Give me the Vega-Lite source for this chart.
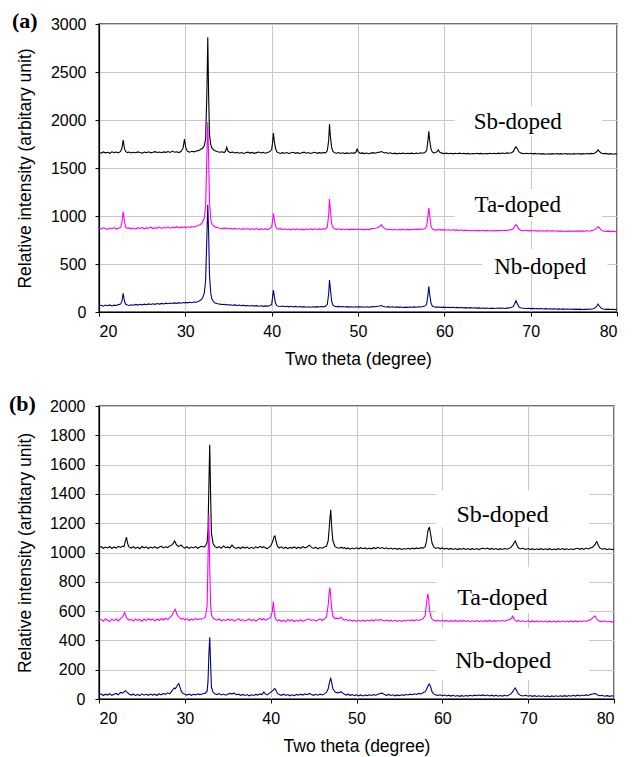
{
"$schema":"https://vega.github.io/schema/vega-lite/v6.json",
"background":"white",
"padding":{"left":8,"top":9,"right":5,"bottom":0},
"spacing":22,
"config":{
 "view":{"stroke":"#404040","strokeWidth":1.5},
 "axis":{"labelFont":"Liberation Sans","titleFont":"Liberation Sans","labelFontSize":16,"titleFontSize":17.5,"titleFontWeight":"normal","labelColor":"#000","titleColor":"#000","domainColor":"#000","tickColor":"#000","gridColor":"#c8c8c8","gridWidth":1,"tickSize":4,"domainWidth":1.2}
},
"datasets":{
"a":[
{"x":20,"Sb":1662,"Ta":872,"Nb":64},{"x":20.25,"Sb":1655,"Ta":866,"Nb":70},{"x":20.5,"Sb":1667,"Ta":877,"Nb":61},{"x":20.75,"Sb":1658,"Ta":869,"Nb":72},{"x":21,"Sb":1664,"Ta":861,"Nb":66},{"x":21.25,"Sb":1653,"Ta":875,"Nb":74},{"x":21.5,"Sb":1669,"Ta":868,"Nb":63},{"x":21.75,"Sb":1660,"Ta":879,"Nb":71},{"x":22,"Sb":1666,"Ta":864,"Nb":68},{"x":22.25,"Sb":1657,"Ta":873,"Nb":77},{"x":22.5,"Sb":1672,"Ta":880,"Nb":82},{"x":22.65,"Sb":1705,"Ta":930,"Nb":110},{"x":22.8,"Sb":1790,"Ta":1045,"Nb":195},{"x":22.95,"Sb":1702,"Ta":935,"Nb":112},{"x":23.1,"Sb":1670,"Ta":884,"Nb":80},{"x":23.3,"Sb":1661,"Ta":870,"Nb":72},{"x":23.5,"Sb":1667,"Ta":876,"Nb":68},{"x":23.75,"Sb":1656,"Ta":866,"Nb":76},{"x":24,"Sb":1664,"Ta":874,"Nb":70},{"x":24.25,"Sb":1659,"Ta":863,"Nb":79},{"x":24.5,"Sb":1668,"Ta":878,"Nb":72},{"x":24.75,"Sb":1661,"Ta":870,"Nb":80},{"x":25,"Sb":1655,"Ta":881,"Nb":74},{"x":25.25,"Sb":1666,"Ta":867,"Nb":82},{"x":25.5,"Sb":1660,"Ta":876,"Nb":76},{"x":25.75,"Sb":1669,"Ta":872,"Nb":84},{"x":26,"Sb":1658,"Ta":883,"Nb":78},{"x":26.25,"Sb":1664,"Ta":869,"Nb":86},{"x":26.5,"Sb":1670,"Ta":878,"Nb":80},{"x":26.75,"Sb":1661,"Ta":874,"Nb":88},{"x":27,"Sb":1667,"Ta":885,"Nb":82},{"x":27.25,"Sb":1659,"Ta":871,"Nb":90},{"x":27.5,"Sb":1668,"Ta":880,"Nb":84},{"x":27.75,"Sb":1663,"Ta":875,"Nb":92},{"x":28,"Sb":1671,"Ta":887,"Nb":86},{"x":28.25,"Sb":1662,"Ta":873,"Nb":93},{"x":28.5,"Sb":1676,"Ta":882,"Nb":88},{"x":28.75,"Sb":1664,"Ta":877,"Nb":95},{"x":29,"Sb":1669,"Ta":889,"Nb":90},{"x":29.25,"Sb":1661,"Ta":876,"Nb":97},{"x":29.5,"Sb":1672,"Ta":884,"Nb":92},{"x":29.75,"Sb":1712,"Ta":880,"Nb":99},{"x":29.9,"Sb":1802,"Ta":886,"Nb":94},{"x":30.05,"Sb":1712,"Ta":879,"Nb":100},{"x":30.25,"Sb":1673,"Ta":888,"Nb":95},{"x":30.5,"Sb":1665,"Ta":881,"Nb":101},{"x":30.75,"Sb":1674,"Ta":890,"Nb":97},{"x":31,"Sb":1668,"Ta":886,"Nb":104},{"x":31.25,"Sb":1677,"Ta":894,"Nb":101},{"x":31.5,"Sb":1681,"Ta":900,"Nb":110},{"x":31.75,"Sb":1692,"Ta":912,"Nb":122},{"x":32,"Sb":1705,"Ta":935,"Nb":145},{"x":32.2,"Sb":1735,"Ta":980,"Nb":200},{"x":32.35,"Sb":1800,"Ta":1100,"Nb":330},{"x":32.5,"Sb":2300,"Ta":1650,"Nb":800},{"x":32.6,"Sb":2862,"Ta":1978,"Nb":1118},{"x":32.7,"Sb":2250,"Ta":1600,"Nb":820},{"x":32.8,"Sb":1850,"Ta":1150,"Nb":380},{"x":32.95,"Sb":1740,"Ta":960,"Nb":190},{"x":33.1,"Sb":1705,"Ta":915,"Nb":130},{"x":33.3,"Sb":1688,"Ta":895,"Nb":105},{"x":33.5,"Sb":1678,"Ta":884,"Nb":92},{"x":33.75,"Sb":1670,"Ta":878,"Nb":86},{"x":34,"Sb":1664,"Ta":873,"Nb":82},{"x":34.25,"Sb":1669,"Ta":867,"Nb":78},{"x":34.5,"Sb":1661,"Ta":876,"Nb":80},{"x":34.65,"Sb":1676,"Ta":869,"Nb":75},{"x":34.8,"Sb":1716,"Ta":874,"Nb":78},{"x":34.95,"Sb":1674,"Ta":866,"Nb":73},{"x":35.2,"Sb":1660,"Ta":872,"Nb":76},{"x":35.5,"Sb":1666,"Ta":864,"Nb":71},{"x":35.75,"Sb":1657,"Ta":871,"Nb":74},{"x":36,"Sb":1663,"Ta":862,"Nb":68},{"x":36.25,"Sb":1654,"Ta":869,"Nb":72},{"x":36.5,"Sb":1661,"Ta":860,"Nb":66},{"x":36.75,"Sb":1652,"Ta":868,"Nb":70},{"x":37,"Sb":1659,"Ta":862,"Nb":64},{"x":37.25,"Sb":1665,"Ta":870,"Nb":68},{"x":37.5,"Sb":1655,"Ta":859,"Nb":62},{"x":37.75,"Sb":1662,"Ta":867,"Nb":67},{"x":38,"Sb":1653,"Ta":861,"Nb":61},{"x":38.25,"Sb":1660,"Ta":869,"Nb":66},{"x":38.5,"Sb":1666,"Ta":858,"Nb":60},{"x":38.75,"Sb":1656,"Ta":866,"Nb":65},{"x":39,"Sb":1663,"Ta":860,"Nb":59},{"x":39.25,"Sb":1654,"Ta":868,"Nb":64},{"x":39.5,"Sb":1661,"Ta":857,"Nb":61},{"x":39.75,"Sb":1668,"Ta":866,"Nb":66},{"x":40,"Sb":1692,"Ta":885,"Nb":78},{"x":40.1,"Sb":1762,"Ta":950,"Nb":150},{"x":40.2,"Sb":1865,"Ta":1028,"Nb":229},{"x":40.3,"Sb":1782,"Ta":962,"Nb":165},{"x":40.45,"Sb":1702,"Ta":895,"Nb":90},{"x":40.6,"Sb":1668,"Ta":870,"Nb":66},{"x":40.8,"Sb":1659,"Ta":862,"Nb":60},{"x":41,"Sb":1652,"Ta":868,"Nb":57},{"x":41.25,"Sb":1660,"Ta":859,"Nb":62},{"x":41.5,"Sb":1654,"Ta":866,"Nb":55},{"x":41.75,"Sb":1661,"Ta":857,"Nb":60},{"x":42,"Sb":1651,"Ta":864,"Nb":54},{"x":42.25,"Sb":1658,"Ta":856,"Nb":59},{"x":42.5,"Sb":1664,"Ta":865,"Nb":53},{"x":42.75,"Sb":1653,"Ta":858,"Nb":58},{"x":43,"Sb":1660,"Ta":866,"Nb":52},{"x":43.25,"Sb":1651,"Ta":855,"Nb":57},{"x":43.5,"Sb":1659,"Ta":863,"Nb":51},{"x":43.75,"Sb":1665,"Ta":856,"Nb":56},{"x":44,"Sb":1654,"Ta":864,"Nb":50},{"x":44.25,"Sb":1661,"Ta":857,"Nb":55},{"x":44.5,"Sb":1652,"Ta":866,"Nb":49},{"x":44.75,"Sb":1658,"Ta":858,"Nb":54},{"x":45,"Sb":1663,"Ta":867,"Nb":51},{"x":45.25,"Sb":1653,"Ta":859,"Nb":56},{"x":45.5,"Sb":1660,"Ta":866,"Nb":52},{"x":45.75,"Sb":1655,"Ta":860,"Nb":57},{"x":46,"Sb":1662,"Ta":868,"Nb":54},{"x":46.25,"Sb":1658,"Ta":862,"Nb":60},{"x":46.45,"Sb":1682,"Ta":885,"Nb":80},{"x":46.6,"Sb":1785,"Ta":1010,"Nb":190},{"x":46.7,"Sb":1957,"Ta":1177,"Nb":333},{"x":46.8,"Sb":1830,"Ta":1060,"Nb":240},{"x":46.95,"Sb":1712,"Ta":920,"Nb":110},{"x":47.1,"Sb":1672,"Ta":880,"Nb":72},{"x":47.3,"Sb":1659,"Ta":866,"Nb":60},{"x":47.5,"Sb":1654,"Ta":861,"Nb":55},{"x":47.75,"Sb":1661,"Ta":867,"Nb":58},{"x":48,"Sb":1652,"Ta":858,"Nb":53},{"x":48.25,"Sb":1658,"Ta":865,"Nb":57},{"x":48.5,"Sb":1650,"Ta":857,"Nb":52},{"x":48.75,"Sb":1657,"Ta":864,"Nb":56},{"x":49,"Sb":1651,"Ta":856,"Nb":51},{"x":49.25,"Sb":1659,"Ta":863,"Nb":55},{"x":49.5,"Sb":1653,"Ta":858,"Nb":50},{"x":49.75,"Sb":1664,"Ta":864,"Nb":54},{"x":49.9,"Sb":1696,"Ta":859,"Nb":52},{"x":50.05,"Sb":1668,"Ta":866,"Nb":56},{"x":50.25,"Sb":1652,"Ta":857,"Nb":51},{"x":50.5,"Sb":1657,"Ta":863,"Nb":55},{"x":50.75,"Sb":1650,"Ta":856,"Nb":50},{"x":51,"Sb":1656,"Ta":862,"Nb":54},{"x":51.25,"Sb":1649,"Ta":858,"Nb":49},{"x":51.5,"Sb":1655,"Ta":866,"Nb":53},{"x":51.75,"Sb":1660,"Ta":870,"Nb":57},{"x":52,"Sb":1654,"Ta":873,"Nb":55},{"x":52.25,"Sb":1662,"Ta":878,"Nb":60},{"x":52.5,"Sb":1665,"Ta":890,"Nb":62},{"x":52.7,"Sb":1672,"Ta":910,"Nb":68},{"x":52.9,"Sb":1664,"Ta":884,"Nb":60},{"x":53.1,"Sb":1657,"Ta":868,"Nb":55},{"x":53.3,"Sb":1661,"Ta":863,"Nb":52},{"x":53.5,"Sb":1652,"Ta":857,"Nb":56},{"x":53.75,"Sb":1658,"Ta":862,"Nb":50},{"x":54,"Sb":1649,"Ta":855,"Nb":54},{"x":54.25,"Sb":1655,"Ta":861,"Nb":49},{"x":54.5,"Sb":1647,"Ta":854,"Nb":53},{"x":54.75,"Sb":1654,"Ta":860,"Nb":48},{"x":55,"Sb":1650,"Ta":856,"Nb":52},{"x":55.25,"Sb":1656,"Ta":862,"Nb":47},{"x":55.5,"Sb":1648,"Ta":855,"Nb":51},{"x":55.75,"Sb":1654,"Ta":861,"Nb":48},{"x":56,"Sb":1650,"Ta":856,"Nb":52},{"x":56.25,"Sb":1655,"Ta":862,"Nb":49},{"x":56.5,"Sb":1649,"Ta":857,"Nb":53},{"x":56.75,"Sb":1656,"Ta":863,"Nb":50},{"x":57,"Sb":1651,"Ta":858,"Nb":55},{"x":57.25,"Sb":1658,"Ta":865,"Nb":52},{"x":57.5,"Sb":1654,"Ta":862,"Nb":58},{"x":57.75,"Sb":1662,"Ta":870,"Nb":62},{"x":57.95,"Sb":1682,"Ta":892,"Nb":80},{"x":58.1,"Sb":1782,"Ta":1000,"Nb":175},{"x":58.2,"Sb":1882,"Ta":1084,"Nb":268},{"x":58.3,"Sb":1792,"Ta":1010,"Nb":190},{"x":58.45,"Sb":1702,"Ta":900,"Nb":95},{"x":58.6,"Sb":1668,"Ta":866,"Nb":62},{"x":58.8,"Sb":1658,"Ta":858,"Nb":55},{"x":59,"Sb":1662,"Ta":852,"Nb":50},{"x":59.15,"Sb":1670,"Ta":858,"Nb":53},{"x":59.3,"Sb":1688,"Ta":854,"Nb":49},{"x":59.45,"Sb":1667,"Ta":860,"Nb":52},{"x":59.7,"Sb":1655,"Ta":853,"Nb":48},{"x":60,"Sb":1650,"Ta":858,"Nb":51},{"x":60.25,"Sb":1655,"Ta":852,"Nb":47},{"x":60.5,"Sb":1648,"Ta":857,"Nb":50},{"x":60.75,"Sb":1654,"Ta":851,"Nb":46},{"x":61,"Sb":1647,"Ta":856,"Nb":49},{"x":61.25,"Sb":1653,"Ta":850,"Nb":45},{"x":61.5,"Sb":1649,"Ta":855,"Nb":48},{"x":61.75,"Sb":1655,"Ta":849,"Nb":44},{"x":62,"Sb":1648,"Ta":854,"Nb":47},{"x":62.25,"Sb":1653,"Ta":848,"Nb":43},{"x":62.5,"Sb":1647,"Ta":853,"Nb":46},{"x":62.75,"Sb":1652,"Ta":847,"Nb":42},{"x":63,"Sb":1646,"Ta":852,"Nb":45},{"x":63.25,"Sb":1651,"Ta":846,"Nb":41},{"x":63.5,"Sb":1648,"Ta":851,"Nb":44},{"x":63.75,"Sb":1654,"Ta":845,"Nb":40},{"x":64,"Sb":1647,"Ta":850,"Nb":43},{"x":64.25,"Sb":1652,"Ta":846,"Nb":39},{"x":64.5,"Sb":1646,"Ta":851,"Nb":42},{"x":64.75,"Sb":1651,"Ta":845,"Nb":38},{"x":65,"Sb":1647,"Ta":850,"Nb":41},{"x":65.25,"Sb":1653,"Ta":844,"Nb":37},{"x":65.5,"Sb":1648,"Ta":849,"Nb":40},{"x":65.75,"Sb":1654,"Ta":845,"Nb":36},{"x":66,"Sb":1649,"Ta":850,"Nb":39},{"x":66.25,"Sb":1655,"Ta":846,"Nb":42},{"x":66.5,"Sb":1650,"Ta":851,"Nb":38},{"x":66.75,"Sb":1656,"Ta":847,"Nb":41},{"x":67,"Sb":1651,"Ta":852,"Nb":37},{"x":67.25,"Sb":1657,"Ta":848,"Nb":40},{"x":67.5,"Sb":1653,"Ta":854,"Nb":43},{"x":67.75,"Sb":1659,"Ta":858,"Nb":46},{"x":68,"Sb":1672,"Ta":870,"Nb":58},{"x":68.15,"Sb":1702,"Ta":895,"Nb":90},{"x":68.3,"Sb":1722,"Ta":910,"Nb":118},{"x":68.45,"Sb":1701,"Ta":892,"Nb":85},{"x":68.65,"Sb":1667,"Ta":862,"Nb":52},{"x":68.9,"Sb":1655,"Ta":850,"Nb":42},{"x":69.2,"Sb":1649,"Ta":846,"Nb":39},{"x":69.5,"Sb":1654,"Ta":851,"Nb":36},{"x":69.75,"Sb":1648,"Ta":845,"Nb":39},{"x":70,"Sb":1653,"Ta":850,"Nb":35},{"x":70.25,"Sb":1647,"Ta":844,"Nb":38},{"x":70.5,"Sb":1652,"Ta":849,"Nb":34},{"x":70.75,"Sb":1646,"Ta":843,"Nb":37},{"x":71,"Sb":1651,"Ta":848,"Nb":33},{"x":71.25,"Sb":1645,"Ta":842,"Nb":36},{"x":71.5,"Sb":1650,"Ta":847,"Nb":32},{"x":71.75,"Sb":1644,"Ta":843,"Nb":35},{"x":72,"Sb":1649,"Ta":848,"Nb":31},{"x":72.25,"Sb":1645,"Ta":842,"Nb":34},{"x":72.5,"Sb":1650,"Ta":847,"Nb":30},{"x":72.75,"Sb":1646,"Ta":841,"Nb":33},{"x":73,"Sb":1651,"Ta":846,"Nb":29},{"x":73.25,"Sb":1645,"Ta":840,"Nb":32},{"x":73.5,"Sb":1650,"Ta":845,"Nb":29},{"x":73.75,"Sb":1646,"Ta":839,"Nb":32},{"x":74,"Sb":1651,"Ta":844,"Nb":28},{"x":74.25,"Sb":1645,"Ta":840,"Nb":31},{"x":74.5,"Sb":1649,"Ta":845,"Nb":28},{"x":74.75,"Sb":1644,"Ta":839,"Nb":31},{"x":75,"Sb":1650,"Ta":844,"Nb":27},{"x":75.25,"Sb":1646,"Ta":840,"Nb":30},{"x":75.5,"Sb":1651,"Ta":845,"Nb":27},{"x":75.75,"Sb":1645,"Ta":840,"Nb":30},{"x":76,"Sb":1650,"Ta":845,"Nb":26},{"x":76.25,"Sb":1646,"Ta":841,"Nb":29},{"x":76.5,"Sb":1651,"Ta":846,"Nb":27},{"x":76.75,"Sb":1647,"Ta":842,"Nb":31},{"x":77,"Sb":1652,"Ta":848,"Nb":29},{"x":77.25,"Sb":1649,"Ta":852,"Nb":34},{"x":77.55,"Sb":1662,"Ta":866,"Nb":48},{"x":77.7,"Sb":1676,"Ta":880,"Nb":68},{"x":77.8,"Sb":1688,"Ta":889,"Nb":83},{"x":77.95,"Sb":1673,"Ta":878,"Nb":62},{"x":78.15,"Sb":1656,"Ta":855,"Nb":40},{"x":78.4,"Sb":1648,"Ta":843,"Nb":31},{"x":78.7,"Sb":1652,"Ta":838,"Nb":27},{"x":79,"Sb":1645,"Ta":842,"Nb":30},{"x":79.25,"Sb":1650,"Ta":837,"Nb":26},{"x":79.5,"Sb":1644,"Ta":841,"Nb":29},{"x":79.75,"Sb":1649,"Ta":836,"Nb":25},{"x":80,"Sb":1645,"Ta":840,"Nb":28}
],
"b":[
{"x":20,"Sb":1034,"Ta":536,"Nb":28},{"x":20.25,"Sb":1040,"Ta":544,"Nb":35},{"x":20.5,"Sb":1029,"Ta":531,"Nb":24},{"x":20.75,"Sb":1037,"Ta":548,"Nb":33},{"x":21,"Sb":1031,"Ta":538,"Nb":27},{"x":21.25,"Sb":1041,"Ta":529,"Nb":36},{"x":21.5,"Sb":1027,"Ta":545,"Nb":25},{"x":21.75,"Sb":1038,"Ta":535,"Nb":32},{"x":22,"Sb":1030,"Ta":547,"Nb":38},{"x":22.25,"Sb":1042,"Ta":533,"Nb":29},{"x":22.5,"Sb":1035,"Ta":549,"Nb":45},{"x":22.75,"Sb":1044,"Ta":560,"Nb":40},{"x":22.9,"Sb":1040,"Ta":578,"Nb":48},{"x":23,"Sb":1060,"Ta":590,"Nb":52},{"x":23.1,"Sb":1085,"Ta":572,"Nb":56},{"x":23.2,"Sb":1105,"Ta":555,"Nb":50},{"x":23.35,"Sb":1058,"Ta":546,"Nb":42},{"x":23.5,"Sb":1038,"Ta":538,"Nb":34},{"x":23.75,"Sb":1030,"Ta":544,"Nb":27},{"x":24,"Sb":1039,"Ta":533,"Nb":33},{"x":24.25,"Sb":1028,"Ta":547,"Nb":24},{"x":24.5,"Sb":1036,"Ta":537,"Nb":31},{"x":24.75,"Sb":1026,"Ta":543,"Nb":23},{"x":25,"Sb":1041,"Ta":531,"Nb":35},{"x":25.25,"Sb":1032,"Ta":546,"Nb":26},{"x":25.5,"Sb":1039,"Ta":535,"Nb":32},{"x":25.75,"Sb":1027,"Ta":548,"Nb":25},{"x":26,"Sb":1037,"Ta":539,"Nb":34},{"x":26.25,"Sb":1030,"Ta":545,"Nb":27},{"x":26.5,"Sb":1040,"Ta":532,"Nb":33},{"x":26.75,"Sb":1029,"Ta":546,"Nb":24},{"x":27,"Sb":1036,"Ta":536,"Nb":36},{"x":27.25,"Sb":1043,"Ta":548,"Nb":28},{"x":27.5,"Sb":1031,"Ta":539,"Nb":38},{"x":27.75,"Sb":1039,"Ta":551,"Nb":31},{"x":28,"Sb":1034,"Ta":543,"Nb":42},{"x":28.25,"Sb":1045,"Ta":556,"Nb":35},{"x":28.5,"Sb":1052,"Ta":570,"Nb":55},{"x":28.65,"Sb":1062,"Ta":588,"Nb":68},{"x":28.8,"Sb":1079,"Ta":606,"Nb":75},{"x":28.9,"Sb":1068,"Ta":612,"Nb":70},{"x":29,"Sb":1055,"Ta":590,"Nb":80},{"x":29.15,"Sb":1046,"Ta":570,"Nb":95},{"x":29.3,"Sb":1040,"Ta":560,"Nb":105},{"x":29.45,"Sb":1048,"Ta":552,"Nb":78},{"x":29.6,"Sb":1050,"Ta":545,"Nb":52},{"x":29.75,"Sb":1038,"Ta":552,"Nb":40},{"x":30,"Sb":1030,"Ta":540,"Nb":33},{"x":30.25,"Sb":1039,"Ta":549,"Nb":27},{"x":30.5,"Sb":1028,"Ta":536,"Nb":34},{"x":30.75,"Sb":1037,"Ta":545,"Nb":25},{"x":31,"Sb":1031,"Ta":538,"Nb":32},{"x":31.25,"Sb":1040,"Ta":550,"Nb":28},{"x":31.5,"Sb":1029,"Ta":541,"Nb":35},{"x":31.75,"Sb":1037,"Ta":548,"Nb":30},{"x":32,"Sb":1042,"Ta":546,"Nb":34},{"x":32.2,"Sb":1036,"Ta":552,"Nb":38},{"x":32.4,"Sb":1045,"Ta":560,"Nb":40},{"x":32.6,"Sb":1070,"Ta":640,"Nb":55},{"x":32.7,"Sb":1150,"Ta":950,"Nb":120},{"x":32.8,"Sb":1450,"Ta":1265,"Nb":300},{"x":32.9,"Sb":1735,"Ta":900,"Nb":421},{"x":33,"Sb":1400,"Ta":650,"Nb":250},{"x":33.1,"Sb":1130,"Ta":575,"Nb":80},{"x":33.3,"Sb":1060,"Ta":552,"Nb":45},{"x":33.5,"Sb":1040,"Ta":545,"Nb":36},{"x":33.75,"Sb":1032,"Ta":538,"Nb":30},{"x":34,"Sb":1040,"Ta":546,"Nb":37},{"x":34.25,"Sb":1029,"Ta":533,"Nb":28},{"x":34.5,"Sb":1045,"Ta":542,"Nb":34},{"x":34.75,"Sb":1033,"Ta":535,"Nb":26},{"x":35,"Sb":1038,"Ta":545,"Nb":32},{"x":35.25,"Sb":1031,"Ta":537,"Nb":38},{"x":35.5,"Sb":1050,"Ta":544,"Nb":35},{"x":35.75,"Sb":1034,"Ta":532,"Nb":40},{"x":36,"Sb":1028,"Ta":540,"Nb":29},{"x":36.25,"Sb":1036,"Ta":548,"Nb":33},{"x":36.5,"Sb":1027,"Ta":534,"Nb":25},{"x":36.75,"Sb":1038,"Ta":542,"Nb":31},{"x":37,"Sb":1030,"Ta":531,"Nb":24},{"x":37.25,"Sb":1037,"Ta":539,"Nb":30},{"x":37.5,"Sb":1026,"Ta":546,"Nb":22},{"x":37.75,"Sb":1035,"Ta":535,"Nb":29},{"x":38,"Sb":1028,"Ta":543,"Nb":24},{"x":38.25,"Sb":1039,"Ta":532,"Nb":31},{"x":38.5,"Sb":1031,"Ta":541,"Nb":27},{"x":38.75,"Sb":1042,"Ta":550,"Nb":35},{"x":39,"Sb":1034,"Ta":539,"Nb":30},{"x":39.2,"Sb":1040,"Ta":548,"Nb":48},{"x":39.4,"Sb":1031,"Ta":537,"Nb":33},{"x":39.6,"Sb":1027,"Ta":544,"Nb":28},{"x":39.8,"Sb":1035,"Ta":550,"Nb":38},{"x":40,"Sb":1045,"Ta":555,"Nb":45},{"x":40.2,"Sb":1070,"Ta":600,"Nb":55},{"x":40.3,"Sb":1090,"Ta":665,"Nb":60},{"x":40.4,"Sb":1108,"Ta":610,"Nb":68},{"x":40.5,"Sb":1113,"Ta":560,"Nb":70},{"x":40.65,"Sb":1070,"Ta":540,"Nb":55},{"x":40.8,"Sb":1042,"Ta":534,"Nb":38},{"x":41,"Sb":1031,"Ta":541,"Nb":30},{"x":41.25,"Sb":1039,"Ta":530,"Nb":25},{"x":41.5,"Sb":1028,"Ta":538,"Nb":33},{"x":41.75,"Sb":1036,"Ta":527,"Nb":24},{"x":42,"Sb":1026,"Ta":543,"Nb":30},{"x":42.25,"Sb":1035,"Ta":534,"Nb":22},{"x":42.5,"Sb":1030,"Ta":541,"Nb":29},{"x":42.75,"Sb":1038,"Ta":529,"Nb":23},{"x":43,"Sb":1027,"Ta":537,"Nb":31},{"x":43.25,"Sb":1036,"Ta":532,"Nb":26},{"x":43.5,"Sb":1029,"Ta":541,"Nb":33},{"x":43.75,"Sb":1040,"Ta":530,"Nb":27},{"x":44,"Sb":1032,"Ta":538,"Nb":35},{"x":44.25,"Sb":1038,"Ta":543,"Nb":29},{"x":44.5,"Sb":1050,"Ta":546,"Nb":38},{"x":44.75,"Sb":1035,"Ta":535,"Nb":30},{"x":45,"Sb":1028,"Ta":542,"Nb":25},{"x":45.25,"Sb":1036,"Ta":531,"Nb":32},{"x":45.5,"Sb":1025,"Ta":539,"Nb":26},{"x":45.75,"Sb":1034,"Ta":546,"Nb":33},{"x":46,"Sb":1029,"Ta":537,"Nb":28},{"x":46.25,"Sb":1037,"Ta":545,"Nb":35},{"x":46.5,"Sb":1042,"Ta":560,"Nb":45},{"x":46.7,"Sb":1080,"Ta":640,"Nb":70},{"x":46.8,"Sb":1150,"Ta":720,"Nb":100},{"x":46.9,"Sb":1230,"Ta":760,"Nb":125},{"x":47,"Sb":1291,"Ta":700,"Nb":141},{"x":47.1,"Sb":1180,"Ta":620,"Nb":115},{"x":47.25,"Sb":1080,"Ta":565,"Nb":70},{"x":47.5,"Sb":1040,"Ta":548,"Nb":48},{"x":47.75,"Sb":1032,"Ta":552,"Nb":42},{"x":48,"Sb":1029,"Ta":548,"Nb":45},{"x":48.2,"Sb":1036,"Ta":560,"Nb":50},{"x":48.4,"Sb":1028,"Ta":546,"Nb":40},{"x":48.6,"Sb":1034,"Ta":538,"Nb":32},{"x":48.8,"Sb":1025,"Ta":544,"Nb":27},{"x":49,"Sb":1031,"Ta":535,"Nb":33},{"x":49.25,"Sb":1023,"Ta":541,"Nb":25},{"x":49.5,"Sb":1030,"Ta":532,"Nb":30},{"x":49.75,"Sb":1024,"Ta":539,"Nb":23},{"x":50,"Sb":1032,"Ta":530,"Nb":29},{"x":50.25,"Sb":1025,"Ta":537,"Nb":22},{"x":50.5,"Sb":1033,"Ta":531,"Nb":28},{"x":50.75,"Sb":1026,"Ta":538,"Nb":21},{"x":51,"Sb":1031,"Ta":532,"Nb":27},{"x":51.25,"Sb":1024,"Ta":539,"Nb":23},{"x":51.5,"Sb":1030,"Ta":533,"Nb":29},{"x":51.75,"Sb":1025,"Ta":540,"Nb":24},{"x":52,"Sb":1033,"Ta":534,"Nb":30},{"x":52.25,"Sb":1027,"Ta":542,"Nb":26},{"x":52.5,"Sb":1035,"Ta":536,"Nb":33},{"x":52.75,"Sb":1028,"Ta":543,"Nb":37},{"x":53,"Sb":1034,"Ta":538,"Nb":40},{"x":53.25,"Sb":1026,"Ta":533,"Nb":30},{"x":53.5,"Sb":1032,"Ta":539,"Nb":25},{"x":53.75,"Sb":1024,"Ta":532,"Nb":31},{"x":54,"Sb":1030,"Ta":538,"Nb":24},{"x":54.25,"Sb":1023,"Ta":531,"Nb":29},{"x":54.5,"Sb":1029,"Ta":537,"Nb":22},{"x":54.75,"Sb":1022,"Ta":530,"Nb":28},{"x":55,"Sb":1028,"Ta":536,"Nb":23},{"x":55.25,"Sb":1021,"Ta":530,"Nb":29},{"x":55.5,"Sb":1027,"Ta":537,"Nb":25},{"x":55.75,"Sb":1022,"Ta":533,"Nb":31},{"x":56,"Sb":1029,"Ta":539,"Nb":27},{"x":56.25,"Sb":1023,"Ta":534,"Nb":33},{"x":56.5,"Sb":1030,"Ta":540,"Nb":29},{"x":56.75,"Sb":1025,"Ta":535,"Nb":36},{"x":57,"Sb":1031,"Ta":541,"Nb":31},{"x":57.25,"Sb":1026,"Ta":536,"Nb":38},{"x":57.5,"Sb":1033,"Ta":542,"Nb":34},{"x":57.75,"Sb":1030,"Ta":548,"Nb":42},{"x":58,"Sb":1040,"Ta":570,"Nb":50},{"x":58.15,"Sb":1075,"Ta":650,"Nb":65},{"x":58.3,"Sb":1140,"Ta":717,"Nb":85},{"x":58.4,"Sb":1165,"Ta":690,"Nb":98},{"x":58.5,"Sb":1170,"Ta":610,"Nb":102},{"x":58.65,"Sb":1120,"Ta":565,"Nb":80},{"x":58.8,"Sb":1065,"Ta":545,"Nb":50},{"x":59,"Sb":1038,"Ta":538,"Nb":35},{"x":59.25,"Sb":1028,"Ta":532,"Nb":28},{"x":59.5,"Sb":1034,"Ta":538,"Nb":24},{"x":59.75,"Sb":1025,"Ta":531,"Nb":29},{"x":60,"Sb":1031,"Ta":537,"Nb":22},{"x":60.25,"Sb":1023,"Ta":530,"Nb":27},{"x":60.5,"Sb":1029,"Ta":536,"Nb":21},{"x":60.75,"Sb":1022,"Ta":529,"Nb":26},{"x":61,"Sb":1028,"Ta":535,"Nb":20},{"x":61.25,"Sb":1021,"Ta":530,"Nb":25},{"x":61.5,"Sb":1027,"Ta":536,"Nb":19},{"x":61.75,"Sb":1020,"Ta":529,"Nb":24},{"x":62,"Sb":1026,"Ta":535,"Nb":18},{"x":62.25,"Sb":1022,"Ta":530,"Nb":23},{"x":62.5,"Sb":1028,"Ta":536,"Nb":19},{"x":62.75,"Sb":1021,"Ta":529,"Nb":24},{"x":63,"Sb":1027,"Ta":535,"Nb":20},{"x":63.25,"Sb":1020,"Ta":528,"Nb":25},{"x":63.5,"Sb":1026,"Ta":534,"Nb":21},{"x":63.75,"Sb":1021,"Ta":529,"Nb":26},{"x":64,"Sb":1027,"Ta":535,"Nb":22},{"x":64.25,"Sb":1020,"Ta":528,"Nb":27},{"x":64.5,"Sb":1026,"Ta":534,"Nb":23},{"x":64.75,"Sb":1029,"Ta":529,"Nb":28},{"x":65,"Sb":1024,"Ta":535,"Nb":22},{"x":65.25,"Sb":1030,"Ta":530,"Nb":27},{"x":65.5,"Sb":1022,"Ta":536,"Nb":21},{"x":65.75,"Sb":1028,"Ta":529,"Nb":26},{"x":66,"Sb":1021,"Ta":535,"Nb":20},{"x":66.25,"Sb":1027,"Ta":530,"Nb":25},{"x":66.5,"Sb":1020,"Ta":536,"Nb":19},{"x":66.75,"Sb":1026,"Ta":531,"Nb":24},{"x":67,"Sb":1021,"Ta":537,"Nb":20},{"x":67.25,"Sb":1027,"Ta":531,"Nb":25},{"x":67.5,"Sb":1022,"Ta":537,"Nb":21},{"x":67.75,"Sb":1028,"Ta":540,"Nb":27},{"x":68,"Sb":1035,"Ta":548,"Nb":35},{"x":68.2,"Sb":1050,"Ta":565,"Nb":50},{"x":68.35,"Sb":1065,"Ta":545,"Nb":65},{"x":68.5,"Sb":1079,"Ta":535,"Nb":75},{"x":68.65,"Sb":1055,"Ta":530,"Nb":58},{"x":68.85,"Sb":1032,"Ta":536,"Nb":35},{"x":69.1,"Sb":1024,"Ta":529,"Nb":26},{"x":69.4,"Sb":1029,"Ta":534,"Nb":21},{"x":69.7,"Sb":1021,"Ta":528,"Nb":25},{"x":70,"Sb":1027,"Ta":534,"Nb":19},{"x":70.25,"Sb":1020,"Ta":527,"Nb":24},{"x":70.5,"Sb":1026,"Ta":533,"Nb":18},{"x":70.75,"Sb":1019,"Ta":527,"Nb":23},{"x":71,"Sb":1025,"Ta":533,"Nb":17},{"x":71.25,"Sb":1020,"Ta":526,"Nb":22},{"x":71.5,"Sb":1026,"Ta":532,"Nb":17},{"x":71.75,"Sb":1019,"Ta":526,"Nb":22},{"x":72,"Sb":1025,"Ta":532,"Nb":16},{"x":72.25,"Sb":1020,"Ta":525,"Nb":21},{"x":72.5,"Sb":1026,"Ta":531,"Nb":16},{"x":72.75,"Sb":1019,"Ta":526,"Nb":21},{"x":73,"Sb":1024,"Ta":532,"Nb":17},{"x":73.25,"Sb":1020,"Ta":525,"Nb":22},{"x":73.5,"Sb":1026,"Ta":531,"Nb":17},{"x":73.75,"Sb":1021,"Ta":526,"Nb":22},{"x":74,"Sb":1027,"Ta":532,"Nb":18},{"x":74.25,"Sb":1020,"Ta":526,"Nb":23},{"x":74.5,"Sb":1025,"Ta":532,"Nb":18},{"x":74.75,"Sb":1019,"Ta":527,"Nb":24},{"x":75,"Sb":1025,"Ta":533,"Nb":19},{"x":75.25,"Sb":1020,"Ta":527,"Nb":25},{"x":75.5,"Sb":1026,"Ta":533,"Nb":20},{"x":75.75,"Sb":1029,"Ta":527,"Nb":26},{"x":76,"Sb":1022,"Ta":534,"Nb":21},{"x":76.25,"Sb":1028,"Ta":528,"Nb":27},{"x":76.5,"Sb":1021,"Ta":534,"Nb":22},{"x":76.75,"Sb":1030,"Ta":529,"Nb":28},{"x":77,"Sb":1024,"Ta":536,"Nb":24},{"x":77.25,"Sb":1031,"Ta":540,"Nb":30},{"x":77.5,"Sb":1036,"Ta":552,"Nb":34},{"x":77.65,"Sb":1045,"Ta":560,"Nb":36},{"x":77.8,"Sb":1055,"Ta":567,"Nb":38},{"x":77.9,"Sb":1068,"Ta":558,"Nb":35},{"x":78,"Sb":1075,"Ta":546,"Nb":31},{"x":78.15,"Sb":1052,"Ta":537,"Nb":26},{"x":78.35,"Sb":1031,"Ta":531,"Nb":22},{"x":78.6,"Sb":1022,"Ta":527,"Nb":25},{"x":78.9,"Sb":1027,"Ta":532,"Nb":19},{"x":79.2,"Sb":1020,"Ta":526,"Nb":23},{"x":79.5,"Sb":1025,"Ta":531,"Nb":18},{"x":79.75,"Sb":1019,"Ta":525,"Nb":22},{"x":80,"Sb":1023,"Ta":530,"Nb":19}
],
"boxA":[{"x1":61.2,"x2":78.3,"y1":1834,"y2":2146},{"x1":61.2,"x2":78.3,"y1":948,"y2":1282},{"x1":64.4,"x2":78.9,"y1":396,"y2":656}],
"labA":[{"x":68.5,"y":1907,"label":"Sb-doped"},{"x":68.5,"y":1042,"label":"Ta-doped"},{"x":71.1,"y":396,"label":"Nb-doped"}],
"tagA":[{"x":9.92,"y":2958,"label":"(a)"}],
"boxB":[{"x1":59.25,"x2":77.1,"y1":1173,"y2":1425},{"x1":59.25,"x2":77.1,"y1":587,"y2":900},{"x1":59.25,"x2":77.1,"y1":130,"y2":484}],
"labB":[{"x":67.0,"y":1209,"label":"Sb-doped"},{"x":67.0,"y":641,"label":"Ta-doped"},{"x":67.1,"y":209,"label":"Nb-doped"}],
"tagB":[{"x":9.51,"y":1968,"label":"(b)"}]
},
"vconcat":[
{
 "width":518,"height":288,
 "encoding":{
  "x":{"type":"quantitative","scale":{"domain":[20,80],"nice":false,"zero":false},"axis":{"title":"Two theta (degree)","values":[20,30,40,50,60,70,80],"grid":true,"labelPadding":7,"titlePadding":11}},
  "y":{"type":"quantitative","scale":{"domain":[0,3000],"nice":false},"axis":{"title":"Relative intensity (arbitary unit)","values":[0,500,1000,1500,2000,2500,3000],"format":"d","grid":true,"labelPadding":9,"titlePadding":16}}
 },
 "layer":[
  {"data":{"name":"boxA"},"mark":{"type":"rect","color":"white"},
   "encoding":{"x":{"field":"x1"},"x2":{"field":"x2"},"y":{"field":"y1"},"y2":{"field":"y2"}}},
  {"data":{"name":"a"},"transform":[{"fold":["Sb","Ta","Nb"],"as":["series","value"]}],
   "mark":{"type":"line","strokeWidth":1.1,"interpolate":"linear"},
   "encoding":{
    "x":{"field":"x"},
    "y":{"field":"value"},
    "color":{"field":"series","type":"nominal","scale":{"domain":["Sb","Ta","Nb"],"range":["#000000","#ff00ff","#000080"]},"legend":null}
   }},
  {"data":{"name":"labA"},"mark":{"type":"text","font":"Liberation Serif","fontSize":23,"color":"#000","align":"center","baseline":"alphabetic"},
   "encoding":{"x":{"field":"x"},"y":{"field":"y"},"text":{"field":"label"}}},
  {"data":{"name":"tagA"},"mark":{"type":"text","font":"Liberation Serif","fontSize":22,"fontWeight":"bold","color":"#000","align":"left","baseline":"alphabetic","clip":false},
   "encoding":{"x":{"field":"x"},"y":{"field":"y"},"text":{"field":"label"}}}
 ]
},
{
 "width":515,"height":293,
 "encoding":{
  "x":{"type":"quantitative","scale":{"domain":[20,80],"nice":false,"zero":false},"axis":{"title":"Two theta (degree)","values":[20,30,40,50,60,70,80],"grid":true,"labelPadding":7,"titlePadding":11}},
  "y":{"type":"quantitative","scale":{"domain":[0,2000],"nice":false},"axis":{"title":"Relative intensity (arbitary unit)","values":[0,200,400,600,800,1000,1200,1400,1600,1800,2000],"format":"d","grid":true,"labelPadding":10,"titlePadding":15}}
 },
 "layer":[
  {"data":{"name":"boxB"},"mark":{"type":"rect","color":"white"},
   "encoding":{"x":{"field":"x1"},"x2":{"field":"x2"},"y":{"field":"y1"},"y2":{"field":"y2"}}},
  {"data":{"name":"b"},"transform":[{"fold":["Sb","Ta","Nb"],"as":["series","value"]}],
   "mark":{"type":"line","strokeWidth":1.1,"interpolate":"linear"},
   "encoding":{
    "x":{"field":"x"},
    "y":{"field":"value"},
    "color":{"field":"series","type":"nominal","scale":{"domain":["Sb","Ta","Nb"],"range":["#000000","#ff00ff","#000080"]},"legend":null}
   }},
  {"data":{"name":"labB"},"mark":{"type":"text","font":"Liberation Serif","fontSize":24,"color":"#000","align":"center","baseline":"alphabetic"},
   "encoding":{"x":{"field":"x"},"y":{"field":"y"},"text":{"field":"label"}}},
  {"data":{"name":"tagB"},"mark":{"type":"text","font":"Liberation Serif","fontSize":22,"fontWeight":"bold","color":"#000","align":"left","baseline":"alphabetic","clip":false},
   "encoding":{"x":{"field":"x"},"y":{"field":"y"},"text":{"field":"label"}}}
 ]
}
]
}
